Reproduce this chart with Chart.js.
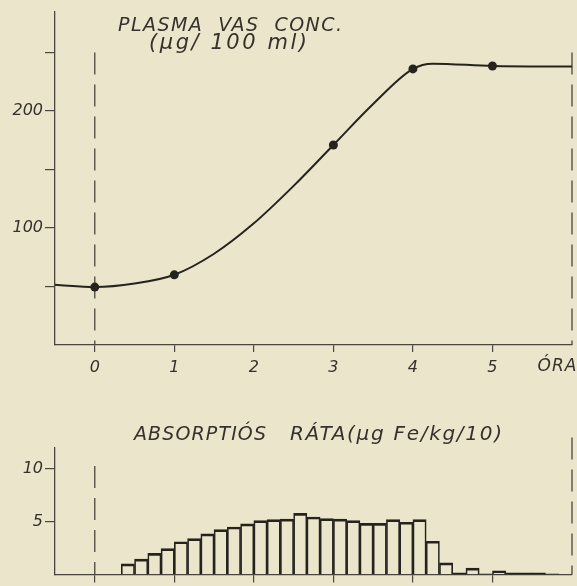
<!DOCTYPE html>
<html>
<head>
<meta charset="utf-8">
<script src="https://cdn.jsdelivr.net/npm/chart.js@4.4.0/dist/chart.umd.min.js"></script>
<style>
  html, body { margin: 0; padding: 0; background: #eae5cb; }
  #wrap { position: relative; width: 577px; height: 586px; }
  #wrap canvas { position: absolute; left: 0; top: 0; }
</style>
</head>
<body>
<div id="wrap">
  <canvas id="plasma" width="577" height="586"></canvas>
  <canvas id="rate" width="577" height="586"></canvas>
</div>
<script>
// top panel: plasma iron (ug/100 ml) against hours
const curveHours  = [-0.5, 0, 0.5, 1, 1.5, 2, 2.5, 3, 3.5, 4, 4.25, 5, 6];
const curveValues = [51.5, 49.5, 52.5, 60, 78, 104, 136, 171, 206, 236, 240.5, 238.5, 238];
const pointHours  = [0, 1, 3, 4, 5];
const pointValues = [49.5, 60, 171, 236, 238.5];
const plasmaTicks  = [50, 100, 150, 200, 250];
const plasmaLabels = [100, 200];
const hourTicks = [0, 1, 2, 3, 4, 5];

// bottom panel: absorption rate, 10 minute bins (start minute of each bin)
const binMinutes = [20, 30, 40, 50, 60, 70, 80, 90, 100, 110, 120, 130, 140, 150, 160, 170, 180,
                    190, 200, 210, 220, 230, 240, 250, 260, 270, 280, 290, 300, 310, 320, 330, 340];
const rateValues = [1.0, 1.45, 2.0, 2.45, 3.1, 3.4, 3.85, 4.25, 4.5, 4.8, 5.1, 5.2, 5.25, 5.8, 5.45, 5.3, 5.25,
                    5.1, 4.85, 4.85, 5.2, 4.95, 5.2, 3.15, 1.1, 0.15, 0.6, 0.05, 0.35, 0.15, 0.15, 0.15, 0.05];
const rateTicks  = [5, 10];
const rateLabels = [5, 10];

const ink = '#26231f';
const axisInk = '#4a463f';
const textInk = '#35312b';
const tickFont = { family: 'DejaVu Sans', size: 16, style: 'italic', weight: 300 };

// text with letter spacing stretched to a given width
function spacedText(ctx, text, cx, cy, width, size) {
  ctx.save();
  ctx.font = 'italic 300 ' + size + 'px "DejaVu Sans"';
  ctx.letterSpacing = '0px';
  const w0 = ctx.measureText(text).width;
  const n = [...text].length;
  const sp = n > 1 ? Math.max(0, (width - w0) / (n - 1)) : 0;
  ctx.letterSpacing = sp + 'px';
  ctx.fillStyle = textInk;
  ctx.textAlign = 'left';
  ctx.textBaseline = 'middle';
  ctx.fillText(text, cx - width / 2, cy);
  ctx.restore();
}

const plasmaText = {
  id: 'plasmaText',
  afterDraw(chart) {
    const ctx = chart.ctx;
    spacedText(ctx, 'PLASMA  VAS  CONC.', 230, 26, 224, 19);
    spacedText(ctx, '(μg/ 100 ml)', 228, 44, 158, 21);
    spacedText(ctx, 'ÓRA', 557, 367, 39, 17);
  }
};

const rateText = {
  id: 'rateText',
  afterDraw(chart) {
    const ctx = chart.ctx;
    spacedText(ctx, 'ABSORPTIÓS', 200, 435, 132, 19);
    spacedText(ctx, 'RÁTA(μg Fe/kg/10)', 396, 435, 212, 20);
  }
};

function dashed(x, yTop) {
  return {
    type: 'line',
    data: [{ x: x, y: yTop }, { x: x, y: 0 }],
    borderColor: axisInk,
    borderWidth: 1.3,
    borderDash: [22, 10],
    pointRadius: 0,
    clip: false
  };
}

new Chart(document.getElementById('plasma'), {
  type: 'line',
  data: {
    datasets: [
      {
        data: curveHours.map((h, i) => ({ x: h, y: curveValues[i] })),
        borderColor: ink,
        borderWidth: 2,
        pointRadius: 0,
        cubicInterpolationMode: 'monotone',
        clip: false
      },
      {
        data: pointHours.map((h, i) => ({ x: h, y: pointValues[i] })),
        showLine: false,
        pointRadius: 4.5,
        pointBackgroundColor: ink,
        pointBorderWidth: 0
      },
      dashed(0, 250),
      dashed(6, 250)
    ]
  },
  options: {
    responsive: false,
    animation: false,
    events: [],
    layout: { padding: { top: 10, right: 5, left: 0, bottom: 586 - 345 - 32 } },
    plugins: { legend: { display: false }, tooltip: { enabled: false } },
    scales: {
      x: {
        type: 'linear', min: -0.5, max: 6,
        afterBuildTicks: s => { s.ticks = hourTicks.map(v => ({ value: v })); },
        afterFit: s => { s.height = 32; },
        grid: { drawOnChartArea: false, tickLength: 7, color: axisInk, lineWidth: 1.2 },
        border: { color: axisInk, width: 1.3 },
        ticks: { color: textInk, font: tickFont, padding: 6, maxRotation: 0 }
      },
      y: {
        min: 0, max: 285,
        afterBuildTicks: s => { s.ticks = plasmaTicks.map(v => ({ value: v })); },
        afterFit: s => { s.width = 55; },
        grid: { drawOnChartArea: false, tickLength: 10, color: axisInk, lineWidth: 1.2 },
        border: { color: axisInk, width: 1.3 },
        ticks: {
          color: textInk, font: tickFont, padding: 2,
          callback: v => plasmaLabels.includes(v) ? String(v) : ''
        }
      }
    }
  },
  plugins: [plasmaText]
});

new Chart(document.getElementById('rate'), {
  type: 'bar',
  data: {
    datasets: [
      {
        type: 'bar',
        data: binMinutes.map((m, i) => ({ x: (m + 5) / 60, y: rateValues[i] })),
        backgroundColor: 'rgba(0,0,0,0)',
        borderColor: ink,
        borderWidth: { top: 2, left: 1, right: 1, bottom: 0 },
        barPercentage: 1,
        categoryPercentage: 1
      },
      dashed(0, 10.3),
      dashed(6, 13)
    ]
  },
  options: {
    responsive: false,
    animation: false,
    events: [],
    layout: { padding: { top: 448, right: 5, left: 0, bottom: 0 } },
    plugins: { legend: { display: false }, tooltip: { enabled: false } },
    scales: {
      x: {
        type: 'linear', min: -0.5, max: 6, offset: false,
        afterBuildTicks: s => { s.ticks = hourTicks.map(v => ({ value: v })); },
        afterFit: s => { s.height = 7; },
        grid: { offset: false, drawOnChartArea: false, tickLength: 8, color: axisInk, lineWidth: 1.2 },
        border: { color: axisInk, width: 1.3 },
        ticks: { display: false }
      },
      y: {
        min: 0, max: 12,
        afterBuildTicks: s => { s.ticks = rateTicks.map(v => ({ value: v })); },
        afterFit: s => { s.width = 55; },
        grid: { drawOnChartArea: false, tickLength: 10, color: axisInk, lineWidth: 1.2 },
        border: { color: axisInk, width: 1.3 },
        ticks: {
          color: textInk, font: tickFont, padding: 2,
          callback: v => rateLabels.includes(v) ? String(v) : ''
        }
      }
    }
  },
  plugins: [rateText]
});
</script>
</body>
</html>
